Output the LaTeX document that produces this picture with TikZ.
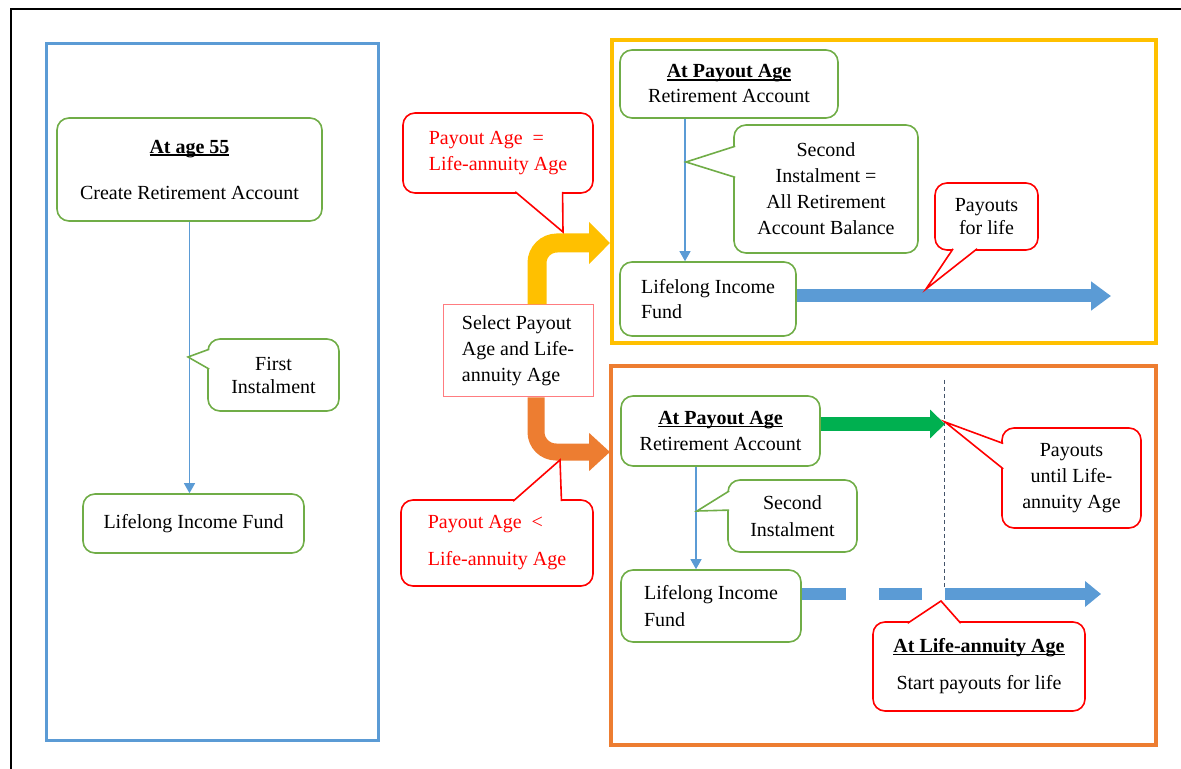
\documentclass[tikz,border=0pt]{standalone}
\usepackage{fontspec}
\setmainfont{Liberation Serif}
\usepackage{tikz}
\usetikzlibrary{arrows.meta,calc}
\definecolor{bluep}{HTML}{5B9BD5}
\definecolor{goldp}{HTML}{FFC000}
\definecolor{orangep}{HTML}{ED7D31}
\definecolor{leaf}{HTML}{70AD47}
\definecolor{redx}{HTML}{FF0000}
\definecolor{pinkx}{HTML}{FF7C80}
\definecolor{greenx}{HTML}{00B050}
\definecolor{slate}{HTML}{44546A}
\newcommand{\undl}[1]{\setbox0\hbox{#1}\rlap{\rule[-1.3pt]{\wd0}{0.7pt}}\box0}

\begin{document}
\begin{tikzpicture}[x=0.5pt,y=-0.5pt,font=\fontsize{10}{13}\selectfont,
  panel/.style={draw,line width=2pt},
  gbox/.style={draw=leaf,line width=0.8pt,rounded corners=6pt,fill=white,align=center,inner sep=0pt},
  rbox/.style={draw=redx,line width=0.8pt,rounded corners=6pt,fill=white,align=center,inner sep=0pt},
  gptr/.style={draw=leaf,fill=white,line width=0.8pt},
  rptr/.style={draw=redx,fill=white,line width=0.8pt},
  thinarr/.style={draw=bluep,line width=0.6pt,-{Triangle[length=5pt,width=5.5pt]}},
  fatY/.style={draw=goldp,line width=9.5pt,rounded corners=10pt,-{Triangle[length=10.5pt,width=20.5pt]}},
  fatO/.style={draw=orangep,line width=8.5pt,rounded corners=10pt,-{Triangle[length=10.5pt,width=18.5pt]}},
  fatB/.style={draw=bluep,line width=6.5pt,-{Triangle[length=10pt,width=14pt]}},
  fatG/.style={draw=greenx,line width=7pt,-{Triangle[length=7.5pt,width=14pt]}}
]
\useasboundingbox (0,0) rectangle (1181,769);
\draw[line width=1pt] (11,769) -- (11,9) -- (1181,9);

\node[panel,draw=bluep,line width=1.5pt,minimum width=166pt,minimum height=348pt] (leftP) at (212,392) {};
\node[panel,draw=goldp,minimum width=272pt,minimum height=151.5pt] (topP) at (884,191.5) {};
\node[panel,draw=orangep,minimum width=272.5pt,minimum height=189.5pt] (botP) at (883.5,555.5) {};

\node[gbox,minimum width=132.5pt,minimum height=51.5pt] (age55) at (189.5,169.5) {\undl{\textbf{At age 55}}\\[10pt]Create Retirement Account};
\node[gbox,minimum width=110.5pt,minimum height=29.5pt] (fundL) at (193.5,523.5) {Lifelong Income Fund};
\draw[thinarr] (age55.south) -- (age55.south |- fundL.north);
\node[gbox,minimum width=65.5pt,minimum height=36pt] (first) at (273.5,375) {First\\[-1.5pt]Instalment};
\filldraw[gptr] ($(first.north west)!0.15!(first.south west)+(2,0)$) -- (188,357) -- ($(first.north west)!0.42!(first.south west)+(2,0)$);

\coordinate (yTip) at (610,243);
\coordinate (oTip) at (610,452);
\node[draw=pinkx,line width=0.5pt,fill=white,align=left,inner sep=0pt,minimum width=75pt,minimum height=46pt] (sel) at (518,351) {Select Payout\\Age and Life-\\annuity Age};
\draw[fatY] ($(sel.north)+(19,0)$) |- (yTip);
\draw[fatO] ($(sel.south)+(18,0)$) |- (oTip);
\node[rbox,text=redx,align=left,minimum width=95pt,minimum height=40pt] (eqLbl) at (498,153) {Payout Age\ \ =\\Life-annuity Age};
\filldraw[rptr] ($(eqLbl.south west)!0.59!(eqLbl.south east)+(0,-2)$) -- (563,232) -- ($(eqLbl.south west)!0.837!(eqLbl.south east)+(0,-2)$);
\node[rbox,text=redx,align=left,minimum width=96pt,minimum height=43pt] (ltLbl) at (497,543) {Payout Age\ \ <\\[5.5pt]Life-annuity Age};
\filldraw[rptr] ($(ltLbl.north west)!0.583!(ltLbl.north east)+(0,2)$) -- (560,460) -- ($(ltLbl.north west)!0.833!(ltLbl.north east)+(0,2)$);

\node[gbox,minimum width=109pt,minimum height=34pt] (retT) at (729,84) {\undl{\textbf{At Payout Age}}\\[-0.5pt]Retirement Account};
\node[gbox,align=left,minimum width=88pt,minimum height=37pt] (fundT) at (708,299) {Lifelong Income\\[-0.5pt]Fund};
\draw[thinarr] ([xshift=-22pt]retT.south) -- ([xshift=-22pt]retT.south |- fundT.north);
\node[gbox,minimum width=92pt,minimum height=64pt] (secT) at (826,189) {Second\\Instalment =\\All Retirement\\Account Balance};
\filldraw[gptr] ($(secT.north west)!0.17!(secT.south west)+(2,0)$) -- (686,162) -- ($(secT.north west)!0.41!(secT.south west)+(2,0)$);
\coordinate (bTipT) at (1111,296);
\draw[fatB] (fundT.east |- bTipT) -- (bTipT);
\node[rbox,minimum width=51.5pt,minimum height=33.5pt] (payT) at (986.5,216.5) {Payouts\\[-1.5pt]for life};
\filldraw[rptr] ($(payT.south west)!0.18!(payT.south east)+(0,-2)$) -- (926,289) -- ($(payT.south west)!0.41!(payT.south east)+(0,-2)$);

\coordinate (vTop) at (944,380);
\coordinate (vBot) at (944,590);
\draw[slate,line width=0.5pt,dash pattern=on 2pt off 1.5pt] (vTop) -- (vBot);
\node[gbox,minimum width=99.5pt,minimum height=35pt] (retB) at (720.5,431) {\undl{\textbf{At Payout Age}}\\Retirement Account};
\coordinate (gTip) at (945,424);
\draw[fatG] (retB.east |- gTip) -- (gTip);
\node[rbox,minimum width=69.5pt,minimum height=50pt] (untilB) at (1071.5,478) {Payouts\\until Life-\\annuity Age};
\filldraw[rptr] ($(untilB.north west)!0.16!(untilB.south west)+(2,0)$) -- (945,422) -- ($(untilB.north west)!0.41!(untilB.south west)+(2,0)$);
\node[gbox,align=left,minimum width=90pt,minimum height=36pt] (fundB) at (711,606) {Lifelong Income\\[0.5pt]Fund};
\draw[thinarr] ([xshift=-12.25pt]retB.south) -- ([xshift=-12.25pt]retB.south |- fundB.north);
\node[gbox,minimum width=64.5pt,minimum height=36pt] (secB) at (792.5,516) {Second\\[0.5pt]Instalment};
\filldraw[gptr] ($(secB.north west)!0.16!(secB.south west)+(2,0)$) -- (697,511) -- ($(secB.north west)!0.42!(secB.south west)+(2,0)$);
\coordinate (dashEnd) at (922,594);
\coordinate (lStart) at (945,594);
\coordinate (lTip) at (1101,594);
\draw[fatB,-,line width=6pt,dash pattern=on 22pt off 16.5pt] (fundB.east |- lTip) -- (dashEnd);
\draw[fatB,line width=6pt,-{Triangle[length=8pt,width=12.5pt]}] (lStart) -- (lTip);
\node[rbox,minimum width=106pt,minimum height=44.5pt] (lifeB) at (979,666.5) {\undl{\textbf{At Life-annuity Age}}\\[5.5pt]Start payouts for life};
\filldraw[rptr] ($(lifeB.north west)!0.166!(lifeB.north east)+(0,2)$) -- (941,601) -- ($(lifeB.north west)!0.414!(lifeB.north east)+(0,2)$);
\end{tikzpicture}
\end{document}
